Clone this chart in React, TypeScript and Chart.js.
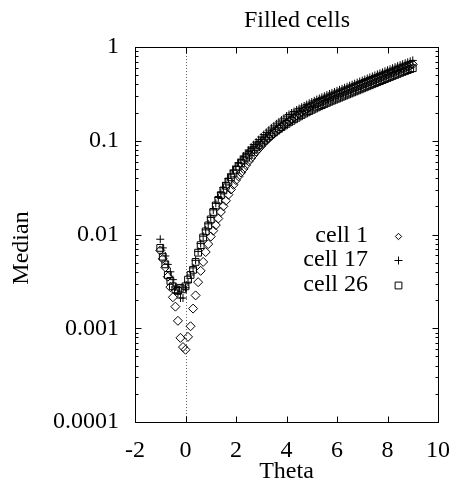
import React, { useEffect, useRef } from "react";
import { Chart, registerables } from "chart.js";

Chart.register(...registerables);

const TITLE = "Filled cells";
const X_LABEL = "Theta";
const Y_LABEL = "Median";
const SERIES_NAMES = ["cell 1", "cell 17", "cell 26"];
const X_TICKS = [-2, 0, 2, 4, 6, 8, 10];
const Y_TICKS = [0.0001, 0.001, 0.01, 0.1, 1];
const Y_TICK_LABELS = ["0.0001", "0.001", "0.01", "0.1", "1"];

const THETA = [
  -1.0, -0.9, -0.8, -0.7, -0.6, -0.5, -0.4, -0.3, -0.2, -0.1,
  0.0, 0.1, 0.2, 0.3, 0.4, 0.5, 0.6, 0.7, 0.8, 0.9,
  1.0, 1.1, 1.2, 1.3, 1.4, 1.5, 1.6, 1.7, 1.8, 1.9,
  2.0, 2.1, 2.2, 2.3, 2.4, 2.5, 2.6, 2.7, 2.8, 2.9,
  3.0, 3.1, 3.2, 3.3, 3.4, 3.5, 3.6, 3.7, 3.8, 3.9,
  4.0, 4.1, 4.2, 4.3, 4.4, 4.5, 4.6, 4.7, 4.8, 4.9,
  5.0, 5.1, 5.2, 5.3, 5.4, 5.5, 5.6, 5.7, 5.8, 5.9,
  6.0, 6.1, 6.2, 6.3, 6.4, 6.5, 6.6, 6.7, 6.8, 6.9,
  7.0, 7.1, 7.2, 7.3, 7.4, 7.5, 7.6, 7.7, 7.8, 7.9,
  8.0, 8.1, 8.2, 8.3, 8.4, 8.5, 8.6, 8.7, 8.8, 8.9,
  9.0,
];

const CELL_1 = [
  0.00676, 0.0055, 0.00447, 0.00355, 0.00275, 0.00214, 0.0017, 0.0012, 0.00079, 0.00063,
  0.00059, 0.00081, 0.00105, 0.00162, 0.00224, 0.0031, 0.0041, 0.0051, 0.0065, 0.0079,
  0.0095, 0.011, 0.0126, 0.0148, 0.0174, 0.02, 0.0229, 0.0266, 0.0302, 0.0339,
  0.038, 0.0417, 0.0457, 0.0501, 0.055, 0.0603, 0.0653, 0.0708, 0.0767, 0.0822,
  0.0881, 0.0944, 0.1005, 0.1067, 0.113, 0.1194, 0.1259, 0.1327, 0.1396, 0.1466,
  0.1535, 0.1613, 0.169, 0.177, 0.1855, 0.1938, 0.2025, 0.2101, 0.219, 0.2272,
  0.2352, 0.2423, 0.2497, 0.2566, 0.2639, 0.2713, 0.2789, 0.2867, 0.294, 0.3016,
  0.3093, 0.3172, 0.3254, 0.3337, 0.3423, 0.3511, 0.36, 0.3693, 0.3787, 0.3885,
  0.3984, 0.4087, 0.4192, 0.4299, 0.441, 0.4522, 0.4639, 0.4758, 0.488, 0.5005,
  0.5134, 0.5265, 0.54, 0.5539, 0.568, 0.5827, 0.5962, 0.6101, 0.6243, 0.6389,
  0.6537,
];

const CELL_17 = [
  0.0089, 0.0072, 0.0059, 0.0048, 0.004, 0.0033, 0.00275, 0.00235, 0.0021, 0.0021,
  0.0027, 0.0031, 0.0037, 0.0044, 0.0053, 0.0066, 0.008, 0.0096, 0.0112, 0.013,
  0.0152, 0.0183, 0.0215, 0.0248, 0.028, 0.0316, 0.0356, 0.0396, 0.0442, 0.0487,
  0.0537, 0.0584, 0.0635, 0.0685, 0.0737, 0.0793, 0.0854, 0.0909, 0.0966, 0.1028,
  0.1096, 0.1163, 0.1228, 0.1298, 0.1368, 0.1439, 0.1513, 0.1588, 0.1661, 0.174,
  0.1832, 0.1905, 0.1976, 0.205, 0.2127, 0.2202, 0.228, 0.2353, 0.2431, 0.2511,
  0.2587, 0.2666, 0.2747, 0.2823, 0.2903, 0.2984, 0.3067, 0.3153, 0.3234, 0.3318,
  0.3403, 0.349, 0.3579, 0.3671, 0.3766, 0.3862, 0.396, 0.4062, 0.4166, 0.4274,
  0.4383, 0.4495, 0.4611, 0.4729, 0.4851, 0.4974, 0.5103, 0.5233, 0.5368, 0.5506,
  0.5647, 0.5791, 0.594, 0.6092, 0.6248, 0.6409, 0.6558, 0.6711, 0.6867, 0.7028,
  0.7191,
];

const CELL_26 = [
  0.0072, 0.0058, 0.0048, 0.0037, 0.0032, 0.0028, 0.0026, 0.0025, 0.0027, 0.0026,
  0.0028, 0.0033, 0.0037, 0.0042, 0.0051, 0.0064, 0.0077, 0.0093, 0.0108, 0.0125,
  0.0145, 0.0174, 0.0204, 0.0234, 0.0263, 0.0295, 0.0331, 0.0367, 0.0407, 0.0447,
  0.049, 0.0531, 0.0575, 0.0617, 0.0661, 0.0708, 0.0759, 0.0804, 0.0851, 0.0902,
  0.0955, 0.1007, 0.1059, 0.1114, 0.1169, 0.1225, 0.1282, 0.134, 0.1396, 0.1455,
  0.1514, 0.1574, 0.1633, 0.1694, 0.1758, 0.182, 0.1884, 0.1945, 0.2009, 0.2075,
  0.2138, 0.2203, 0.227, 0.2333, 0.2399, 0.2466, 0.2535, 0.2606, 0.2673, 0.2742,
  0.2812, 0.2884, 0.2958, 0.3034, 0.3112, 0.3192, 0.3273, 0.3357, 0.3443, 0.3532,
  0.3622, 0.3715, 0.3811, 0.3908, 0.4009, 0.4111, 0.4217, 0.4325, 0.4436, 0.455,
  0.4667, 0.4786, 0.4909, 0.5035, 0.5164, 0.5297, 0.542, 0.5546, 0.5675, 0.5808,
  0.5943,
];

const FONT_FAMILY = "'Liberation Serif', 'Times New Roman', serif";
const POINT_STYLES = ["rectRot", "cross", "rect"];
const POINT_RADII = [4.5, 4, 4.8];

function drawMarker(ctx: CanvasRenderingContext2D, style: string, x: number, y: number, r: number) {
  ctx.beginPath();
  if (style === "rectRot") {
    const s = Math.SQRT1_2 * r;
    ctx.moveTo(x - s, y);
    ctx.lineTo(x, y + s);
    ctx.lineTo(x + s, y);
    ctx.lineTo(x, y - s);
    ctx.closePath();
  } else if (style === "cross") {
    ctx.moveTo(x - r, y);
    ctx.lineTo(x + r, y);
    ctx.moveTo(x, y - r);
    ctx.lineTo(x, y + r);
  } else {
    const s = Math.SQRT1_2 * r;
    ctx.rect(x - s, y - s, 2 * s, 2 * s);
  }
  ctx.stroke();
}

const gnuplotPlugin = {
  id: "gnuplotPlugin",
  beforeDatasetsDraw(chart: any) {
    const { ctx, chartArea: a, scales } = chart;
    const x0 = Math.round(scales.x.getPixelForValue(0)) + 0.5;
    ctx.save();
    ctx.strokeStyle = "#666";
    ctx.lineWidth = 1;
    ctx.setLineDash([1, 2]);
    ctx.beginPath();
    ctx.moveTo(x0, a.top);
    ctx.lineTo(x0, a.bottom);
    ctx.stroke();
    ctx.restore();
  },
  afterDraw(chart: any) {
    const { ctx, chartArea: a, scales } = chart;
    const L = Math.round(a.left) + 0.5;
    const R = Math.round(a.right) + 0.5;
    const T = Math.round(a.top) + 0.5;
    const B = Math.round(a.bottom) + 0.5;
    ctx.save();
    ctx.strokeStyle = "#000";
    ctx.lineWidth = 1;
    ctx.setLineDash([]);
    ctx.strokeRect(L, T, R - L, B - T);
    ctx.beginPath();
    const major = 6;
    const minor = 3;
    for (const v of X_TICKS) {
      const px = Math.round(scales.x.getPixelForValue(v)) + 0.5;
      ctx.moveTo(px, B);
      ctx.lineTo(px, B - major);
      ctx.moveTo(px, T);
      ctx.lineTo(px, T + major);
    }
    for (let i = 0; i < Y_TICKS.length; i++) {
      const v = Y_TICKS[i];
      const py = Math.round(scales.y.getPixelForValue(v)) + 0.5;
      ctx.moveTo(L, py);
      ctx.lineTo(L + major, py);
      ctx.moveTo(R, py);
      ctx.lineTo(R - major, py);
      if (i < Y_TICKS.length - 1) {
        for (let k = 2; k <= 9; k++) {
          const pm = Math.round(scales.y.getPixelForValue(v * k)) + 0.5;
          ctx.moveTo(L, pm);
          ctx.lineTo(L + minor, pm);
          ctx.moveTo(R, pm);
          ctx.lineTo(R - minor, pm);
        }
      }
    }
    ctx.stroke();

    ctx.fillStyle = "#000";
    ctx.font = `24px ${FONT_FAMILY}`;
    ctx.textAlign = "center";
    ctx.textBaseline = "middle";
    ctx.fillText(TITLE, 297, 21);
    ctx.fillText(X_LABEL, (a.left + a.right) / 2, 472);
    ctx.save();
    ctx.translate(22, 248);
    ctx.rotate(-Math.PI / 2);
    ctx.fillText(Y_LABEL, 0, 0);
    ctx.restore();

    ctx.textAlign = "right";
    const rows = [236, 260, 285];
    for (let i = 0; i < SERIES_NAMES.length; i++) {
      ctx.fillText(SERIES_NAMES[i], 368, rows[i]);
      drawMarker(ctx, POINT_STYLES[i], 398.5, rows[i] + 0.5, POINT_RADII[i]);
    }
    ctx.restore();
  },
};

export default function App() {
  const canvasRef = useRef<HTMLCanvasElement | null>(null);

  useEffect(() => {
    const canvas = canvasRef.current;
    if (!canvas) return;
    const series = [CELL_1, CELL_17, CELL_26];
    const datasets = series.map((vals, i) => ({
      label: SERIES_NAMES[i],
      data: THETA.map((t, j) => ({ x: t, y: vals[j] })),
      showLine: false,
      pointStyle: POINT_STYLES[i],
      pointRadius: POINT_RADII[i],
      pointBorderWidth: 1,
      borderColor: "#000",
      backgroundColor: "rgba(0,0,0,0)",
      order: 3 - i,
    }));
    const chart = new Chart(canvas, {
      type: "scatter",
      data: { datasets },
      plugins: [gnuplotPlugin],
      options: {
        animation: false,
        responsive: false,
        maintainAspectRatio: false,
        layout: { padding: { left: 0, right: 17, top: 47, bottom: 0 } },
        plugins: {
          legend: { display: false },
          title: { display: false },
          tooltip: { enabled: false },
        },
        scales: {
          x: {
            type: "linear",
            min: -2,
            max: 10,
            afterBuildTicks: (s: any) => {
              s.ticks = X_TICKS.map((v) => ({ value: v }));
            },
            afterFit: (s: any) => {
              s.height = 63;
            },
            grid: { display: false, drawTicks: false },
            border: { display: false },
            ticks: {
              color: "#000",
              font: { family: FONT_FAMILY, size: 24 },
              padding: 14,
              maxRotation: 0,
              autoSkip: false,
            },
          },
          y: {
            type: "logarithmic",
            min: 0.0001,
            max: 1,
            afterBuildTicks: (s: any) => {
              s.ticks = Y_TICKS.map((v) => ({ value: v }));
            },
            afterFit: (s: any) => {
              s.width = 135;
            },
            grid: { display: false, drawTicks: false },
            border: { display: false },
            ticks: {
              color: "#000",
              font: { family: FONT_FAMILY, size: 24 },
              padding: 16,
              autoSkip: false,
              callback: (_v: any, i: number) => Y_TICK_LABELS[i],
            },
          },
        },
      },
    });
    return () => chart.destroy();
  }, []);

  return (
    <div style={{ position: "fixed", left: 0, top: 0, width: 464, height: 485, background: "#fff" }}>
      <canvas ref={canvasRef} width={464} height={485} />
    </div>
  );
}
